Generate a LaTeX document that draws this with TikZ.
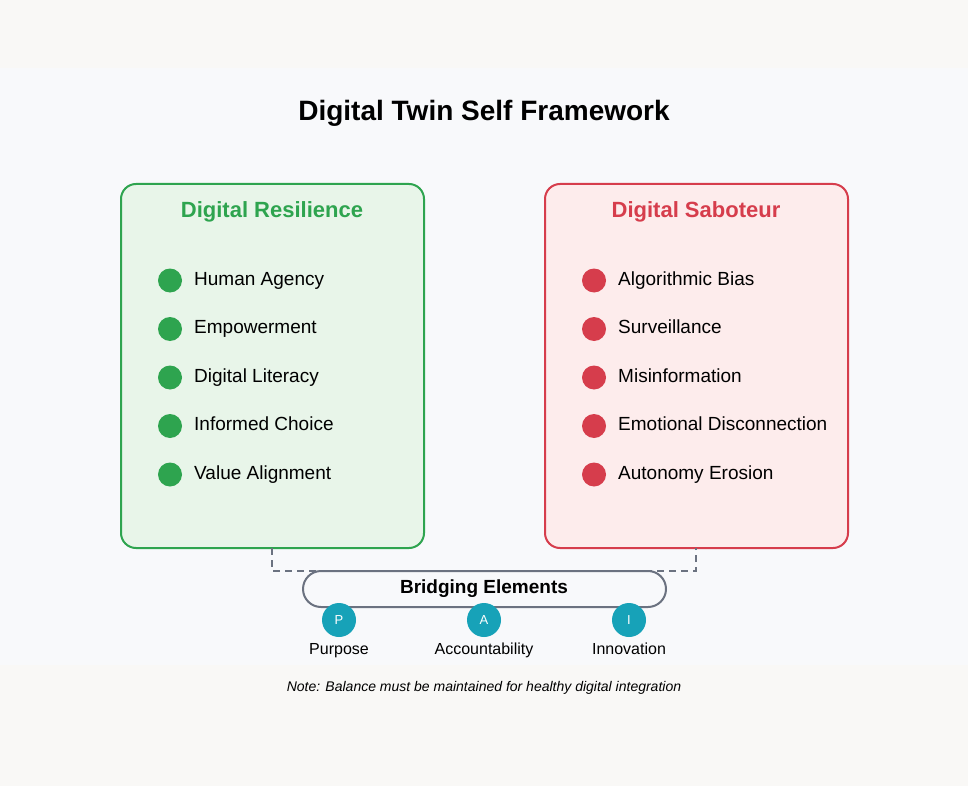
\documentclass[tikz,border=0pt]{standalone}
\usepackage{fontspec}
\setmainfont{Liberation Sans}
\definecolor{pagebg}{HTML}{F9F8F6}
\definecolor{panelbg}{HTML}{F8F9FB}
\definecolor{resline}{HTML}{2EA44F}
\definecolor{resfill}{HTML}{E8F5E9}
\definecolor{sabline}{HTML}{D63D4C}
\definecolor{sabfill}{HTML}{FDECEC}
\definecolor{bridgeline}{HTML}{6B7280}
\definecolor{teal}{HTML}{17A2B8}
\begin{document}
\begin{tikzpicture}[x=1pt, y=-1pt, inner sep=0pt,
  panel/.style={rounded corners=15pt, line width=2pt},
  dot/.style={circle, minimum size=24pt},
  item/.style={anchor=west, text height=13pt, text depth=4pt, font=\fontsize{19}{21}\selectfont},
  head/.style={text height=15pt, text depth=5pt, font=\fontsize{22}{24}\selectfont\bfseries},
  badge/.style={circle, fill=teal, minimum size=34pt, text=white, font=\fontsize{13}{15}\selectfont},
  blabel/.style={text height=11pt, text depth=3pt, font=\fontsize{16}{18}\selectfont}]
  \fill[pagebg] (0,0) rectangle (968,786);
  \fill[panelbg] (0,68) rectangle (968,665);
  \node[text height=20pt, text depth=6pt, font=\fontsize{28}{30}\selectfont\bfseries] (title) at (484,114) {Digital Twin Self Framework};
  % the two sides
  \draw[panel, draw=resline, fill=resfill] (121,184) rectangle (424,548);
  \draw[panel, draw=sabline, fill=sabfill] (545,184) rectangle (848,548);
  \node[head, text=resline] (reshead) at (272,213) {Digital Resilience};
  \node[head, text=sabline] (sabhead) at (696,213) {Digital Saboteur};
  \foreach \t [count=\i] in {Human Agency, Empowerment, Digital Literacy, Informed Choice, Value Alignment} {%
    \node[dot, fill=resline] (rd\i) at (170,232+48.5*\i) {};
    \node[item] (rt\i) at (194,232+48.5*\i) {\t};
  }
  \foreach \t [count=\i] in {Algorithmic Bias, Surveillance, Misinformation, Emotional Disconnection, Autonomy Erosion} {%
    \node[dot, fill=sabline] (sd\i) at (594,232+48.5*\i) {};
    \node[item] (st\i) at (618,232+48.5*\i) {\t};
  }
  % bridge
  \coordinate (rb) at (272,548);
  \coordinate (sb) at (696,548);
  \draw[bridgeline, line width=2pt, dash pattern=on 7pt off 5pt] (rb) -- (272,571) -- (696,571) -- (sb);
  \draw[bridgeline, line width=2pt, fill=panelbg, rounded corners=18pt] (303,571) rectangle (666,607);
  \node[text height=13pt, text depth=4pt, font=\fontsize{19}{21}\selectfont\bfseries] (bridge) at (484,589) {Bridging Elements};
  \foreach \l/\t/\x [count=\i] in {P/Purpose/339, A/Accountability/484, I/Innovation/629} {%
    \node[badge] (b\i) at (\x,620) {\l};
    \node[blabel] (bl\i) at (\x,650) {\t};
  }
  \node[text height=10pt, text depth=3pt, font=\fontsize{14}{16}\selectfont\itshape] (note) at (484,688) {Note: Balance must be maintained for healthy digital integration};
\end{tikzpicture}
\end{document}
